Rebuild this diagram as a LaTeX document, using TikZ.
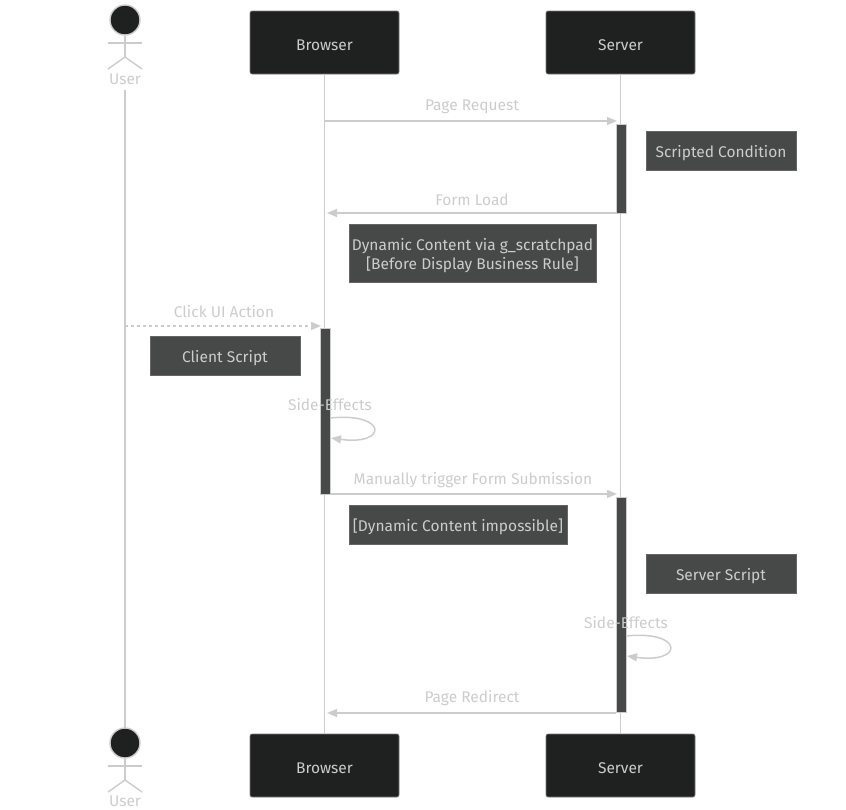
\documentclass[tikz,border=0pt]{standalone}
\usepackage{fontspec}
\setmainfont{Fira Sans}
\usetikzlibrary{arrows.meta}
\definecolor{lin}{HTML}{CCCCCC}
\definecolor{txt}{HTML}{CCCCCC}
\definecolor{actfill}{HTML}{1F2020}
\definecolor{notefill}{HTML}{474949}
\definecolor{noteedge}{HTML}{666666}
\tikzset{
  actorbox/.style={draw=lin!60!black, line width=0.6pt, fill=actfill, rounded corners=2pt, minimum width=149pt, minimum height=63pt, text=txt, font=\fontsize{15.5}{18}\selectfont, inner sep=0pt, text height=15pt, text depth=0pt},
  notebox/.style={draw=noteedge, line width=0.8pt, fill=notefill, text=txt, font=\fontsize{15.5}{18.5}\selectfont, inner sep=0pt, align=center},
  onenote/.style={notebox, text height=13.6pt, text depth=0pt},
  actbar/.style={draw=lin, line width=0.6pt, fill=notefill, minimum width=10pt, inner sep=0pt},
  lifeline/.style={draw=lin, line width=1.1pt},
  msg/.style={draw=lin, line width=1.5pt, -{Triangle[length=10pt,width=8pt]}},
  dmsg/.style={msg, dash pattern=on 3pt off 3pt},
  msglabel/.style={text=txt, font=\fontsize{15.5}{18}\selectfont, inner sep=0pt, anchor=base},
  stick/.style={draw=lin, line width=1.4pt},
}
\begin{document}
\begin{tikzpicture}[x=1pt,y=-1pt]
\useasboundingbox (0,0) rectangle (846,809);
% actors
\node[actorbox] (bt) at (324.5,42.5) {Browser};
\node[actorbox] (st) at (620.5,42.5) {Server};
\node[actorbox] (bb) at (324.5,765.5) {Browser};
\node[actorbox] (sb) at (620.5,765.5) {Server};
% user actor top
\node[circle, draw=lin, line width=1.4pt, fill=actfill, minimum size=30pt, inner sep=0pt] (uh) at (125,20) {};
\draw[stick] (108,43) -- (142,43);
\draw[stick] (uh.south) -- (125,57) coordinate (uleg);
\draw[stick] (108,69) -- (uleg) -- (142,69);
\node[msglabel, text=lin] (ul) at (125,84.3) {User};
% user actor bottom
\node[circle, draw=lin, line width=1.4pt, fill=actfill, minimum size=30pt, inner sep=0pt] (uh2) at (125,743) {};
\draw[stick] (108,766) -- (142,766);
\draw[stick] (uh2.south) -- (125,780) coordinate (uleg2);
\draw[stick] (108,792) -- (uleg2) -- (142,792);
\node[msglabel, text=lin] (ul2) at (125,806) {User};
% lifelines
\coordinate (ut) at (125,90);
\coordinate (ub) at (125,728);
\draw[lifeline] (ut) -- (ub);
\draw[lifeline] (bt.south) -- (bb.north);
\draw[lifeline] (st.south) -- (sb.north);
% activation bars
\node[actbar, minimum height=89pt, anchor=north] (sa1) at (621,124) {};
\node[actbar, minimum height=166pt, anchor=north] (ba1) at (325,328) {};
\node[actbar, minimum height=215pt, anchor=north] (sa2) at (621,497) {};
% Page Request
\coordinate (m1s) at (325,121);
\coordinate (m1e) at (617,121);
\draw[msg] (m1s) -- (m1e);
\node[msglabel] (l1) at (472,110.7) {Page Request};
% Scripted Condition
\node[onenote, minimum width=150pt, minimum height=39pt] (n1) at (721,150.5) {Scripted Condition};
% Form Load
\coordinate (m2s) at (616,213);
\coordinate (m2e) at (327,213);
\draw[msg] (m2s) -- (m2e);
\node[msglabel] (l2) at (472,205.8) {Form Load};
% Dynamic note
\node[notebox, minimum width=247pt, minimum height=58pt] (n2) at (472.5,253) {\rule{0pt}{17pt}Dynamic Content via g\_scratchpad\\{}[Before Display Business Rule]};
% Click UI Action
\coordinate (m3s) at (125,326);
\coordinate (m3e) at (321,326);
\draw[dmsg] (m3s) -- (m3e);
\node[msglabel] (l3) at (224,317.8) {Click UI Action};
% Client Script
\node[onenote, minimum width=150pt, minimum height=39pt] (n3) at (225,355.5) {Client Script};
% Side-effects browser
\node[msglabel] (l4) at (330,410.8) {Side-Effects};
\coordinate (se1) at (330,418);
\coordinate (se1e) at (331,438);
\draw[msg] (se1) .. controls (388,412) and (388,446) .. (se1e);
% Manually trigger
\coordinate (m5s) at (330,494);
\coordinate (m5e) at (617,494);
\draw[msg] (m5s) -- (m5e);
\node[msglabel] (l5) at (473,484.8) {Manually trigger Form Submission};
% Dynamic impossible
\node[onenote, minimum width=218pt, minimum height=39pt] (n4) at (458,524.5) {[Dynamic Content impossible]};
% Server Script
\node[onenote, minimum width=150pt, minimum height=39pt] (n5) at (721,573.5) {Server Script};
% Side-effects server
\node[msglabel] (l6) at (626,628.8) {Side-Effects};
\coordinate (se2) at (626,636);
\coordinate (se2e) at (627,656);
\draw[msg] (se2) .. controls (684,630) and (684,664) .. (se2e);
% Page Redirect
\coordinate (m7s) at (616,713);
\coordinate (m7e) at (327,713);
\draw[msg] (m7s) -- (m7e);
\node[msglabel] (l7) at (472,702.8) {Page Redirect};
\end{tikzpicture}
\end{document}
